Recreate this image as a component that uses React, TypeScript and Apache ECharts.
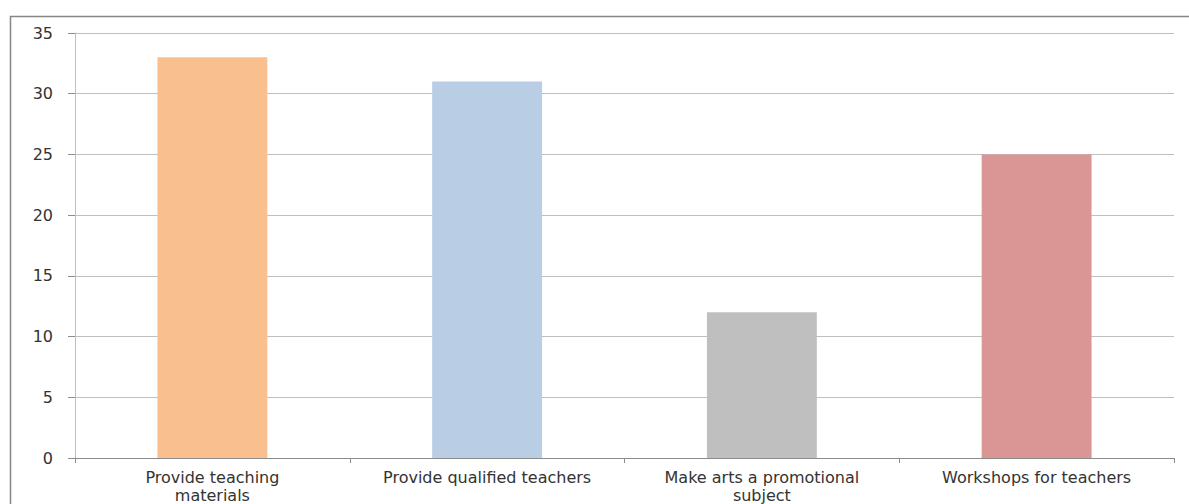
import React, { useEffect, useRef } from "react";
import * as echarts from "echarts";

const categories = [
  "Provide teaching materials",
  "Provide qualified teachers",
  "Make arts a promotional subject",
  "Workshops for teachers",
];
const tickLabels = [
  "Provide teaching\nmaterials",
  "Provide qualified teachers",
  "Make arts a promotional\nsubject",
  "Workshops for teachers",
];
const values = [33, 31, 12, 25];
const barColors = ["#F9BF8F", "#B9CDE5", "#BFBFBF", "#D99694"];
const yTicks = [0, 5, 10, 15, 20, 25, 30, 35];

export default function App() {
  const ref = useRef<HTMLDivElement>(null);
  useEffect(() => {
    document.body.style.margin = "0";
    const chart = echarts.init(ref.current!, null, { renderer: "svg" });
    chart.setOption({
      animation: false,
      backgroundColor: "#ffffff",
      textStyle: { fontFamily: "DejaVu Sans" },
      graphic: [
        {
          type: "rect",
          shape: { x: 10.5, y: 16.5, width: 1300, height: 600 },
          style: { fill: "none", stroke: "#868686", lineWidth: 1.5 },
          silent: true,
          z: -1,
        },
      ],
      grid: { left: 75, right: 15, top: 33, bottom: 46, containLabel: false },
      xAxis: {
        type: "category",
        data: categories,
        axisLine: { show: true, lineStyle: { color: "#8C8C8C", width: 1 } },
        axisTick: { show: true, length: 5, alignWithLabel: false, lineStyle: { color: "#8C8C8C" } },
        axisLabel: {
          interval: 0,
          color: "#333333",
          fontSize: 16,
          lineHeight: 18,
          margin: 10,
          formatter: (v: string) => tickLabels[categories.indexOf(v)],
        },
      },
      yAxis: {
        type: "value",
        min: yTicks[0],
        max: yTicks[yTicks.length - 1],
        interval: 5,
        axisLine: { show: true, lineStyle: { color: "#BFBFBF", width: 1 } },
        axisTick: { show: true, length: 7, lineStyle: { color: "#8C8C8C" } },
        axisLabel: { color: "#333333", fontSize: 16, margin: 22 },
        splitLine: { show: true, lineStyle: { color: "#BFBFBF", width: 1 } },
      },
      series: [
        {
          type: "bar",
          data: values.map((v, i) => ({ value: v, itemStyle: { color: barColors[i] } })),
          barWidth: "40%",
        },
      ],
    });
    return () => chart.dispose();
  }, []);
  return <div ref={ref} style={{ width: 1189, height: 504 }} />;
}
